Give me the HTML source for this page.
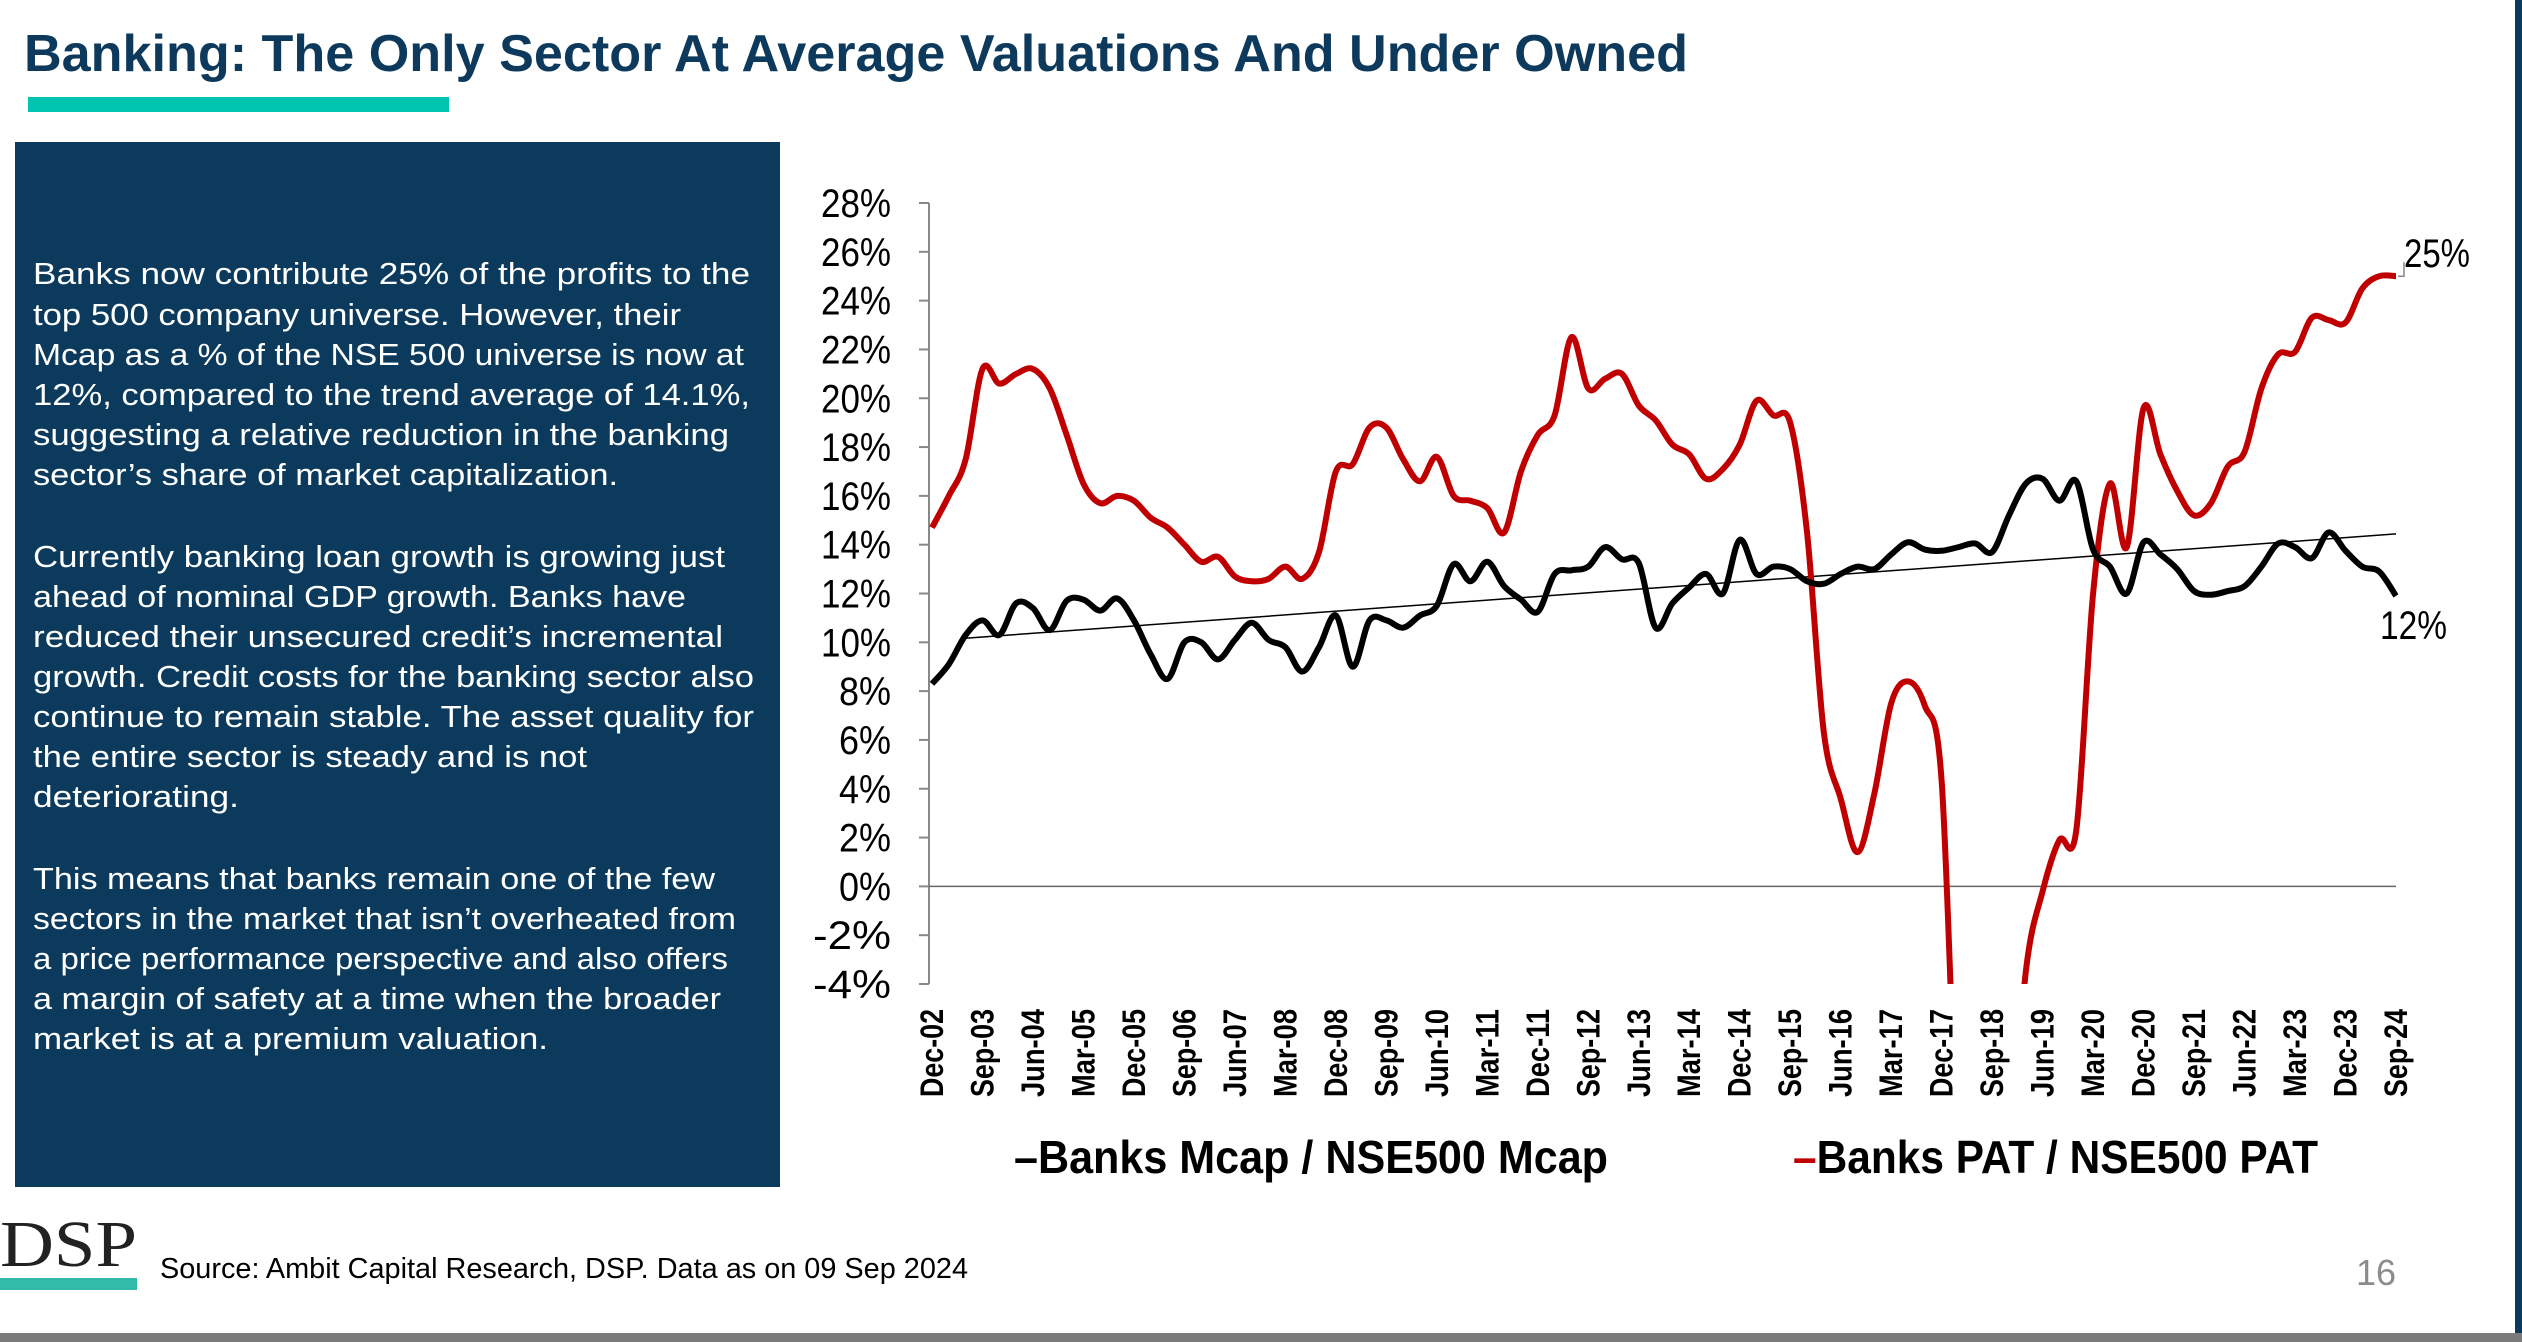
<!DOCTYPE html>
<html><head><meta charset="utf-8"><style>
html,body{margin:0;padding:0;background:#fff;}
svg{display:block;font-family:"Liberation Sans",sans-serif;}
</style></head><body>
<svg id="page" width="2522" height="1342" viewBox="0 0 2522 1342" xmlns="http://www.w3.org/2000/svg">
<rect x="0" y="0" width="2522" height="1342" fill="#fff"/>
<text x="24" y="71" font-size="52" font-weight="bold" fill="#0d3a5c" textLength="1664" lengthAdjust="spacingAndGlyphs">Banking: The Only Sector At Average Valuations And Under Owned</text>
<rect x="28" y="97" width="421" height="15" fill="#00c4b0"/>
<rect x="15" y="142" width="765" height="1045" fill="#0c3a5c"/>
<g fill="#fff" font-size="31">
<text x="33" y="284" textLength="717" lengthAdjust="spacingAndGlyphs">Banks now contribute 25% of the profits to the</text>
<text x="33" y="325" textLength="648" lengthAdjust="spacingAndGlyphs">top 500 company universe. However, their</text>
<text x="33" y="365" textLength="711" lengthAdjust="spacingAndGlyphs">Mcap as a % of the NSE 500 universe is now at</text>
<text x="33" y="405" textLength="717" lengthAdjust="spacingAndGlyphs">12%, compared to the trend average of 14.1%,</text>
<text x="33" y="445" textLength="696" lengthAdjust="spacingAndGlyphs">suggesting a relative reduction in the banking</text>
<text x="33" y="485" textLength="585" lengthAdjust="spacingAndGlyphs">sector’s share of market capitalization.</text>
<text x="33" y="567" textLength="692" lengthAdjust="spacingAndGlyphs">Currently banking loan growth is growing just</text>
<text x="33" y="607" textLength="653" lengthAdjust="spacingAndGlyphs">ahead of nominal GDP growth. Banks have</text>
<text x="33" y="647" textLength="690" lengthAdjust="spacingAndGlyphs">reduced their unsecured credit’s incremental</text>
<text x="33" y="687" textLength="721" lengthAdjust="spacingAndGlyphs">growth. Credit costs for the banking sector also</text>
<text x="33" y="727" textLength="721" lengthAdjust="spacingAndGlyphs">continue to remain stable. The asset quality for</text>
<text x="33" y="767" textLength="554" lengthAdjust="spacingAndGlyphs">the entire sector is steady and is not</text>
<text x="33" y="807" textLength="206" lengthAdjust="spacingAndGlyphs">deteriorating.</text>
<text x="33" y="889" textLength="682" lengthAdjust="spacingAndGlyphs">This means that banks remain one of the few</text>
<text x="33" y="929" textLength="703" lengthAdjust="spacingAndGlyphs">sectors in the market that isn’t overheated from</text>
<text x="33" y="969" textLength="695" lengthAdjust="spacingAndGlyphs">a price performance perspective and also offers</text>
<text x="33" y="1009" textLength="688" lengthAdjust="spacingAndGlyphs">a margin of safety at a time when the broader</text>
<text x="33" y="1049" textLength="515" lengthAdjust="spacingAndGlyphs">market is at a premium valuation.</text>
</g>
<g id="chart"></g>
<g font-size="46" font-weight="bold" fill="#000">
<text x="1014" y="1173" textLength="594" lengthAdjust="spacingAndGlyphs">–Banks Mcap / NSE500 Mcap</text>
<text x="1793" y="1173" textLength="525" lengthAdjust="spacingAndGlyphs"><tspan fill="#c00000">–</tspan>Banks PAT / NSE500 PAT</text>
</g>
<g>
<text x="0" y="1266" font-family="Liberation Serif,serif" font-size="66" fill="#222" textLength="137" lengthAdjust="spacingAndGlyphs">DSP</text>
<rect x="0" y="1278" width="137" height="12" fill="#33bba9"/>
</g>
<text x="160" y="1278" font-size="29" fill="#000" textLength="808" lengthAdjust="spacingAndGlyphs">Source: Ambit Capital Research, DSP. Data as on 09 Sep 2024</text>
<text x="2356" y="1285" font-size="36" fill="#8c8c8c">16</text>
<rect x="2515" y="0" width="7" height="1333" fill="#0c3a5c"/>
<rect x="0" y="1333" width="2522" height="9" fill="#7a7a7a"/>
</svg>
<script>
const xTickLabels = ["Dec-02","Sep-03","Jun-04","Mar-05","Dec-05","Sep-06","Jun-07","Mar-08","Dec-08","Sep-09","Jun-10","Mar-11","Dec-11","Sep-12","Jun-13","Mar-14","Dec-14","Sep-15","Jun-16","Mar-17","Dec-17","Sep-18","Jun-19","Mar-20","Dec-20","Sep-21","Jun-22","Mar-23","Dec-23","Sep-24"];
const yTicks = [28,26,24,22,20,18,16,14,12,10,8,6,4,2,0,-2,-4];
const mcapShare = [8.3,9.1,10.3,10.9,10.3,11.6,11.4,10.5,11.7,11.75,11.3,11.8,10.9,9.5,8.5,10.0,10.0,9.3,10.1,10.8,10.1,9.8,8.8,9.8,11.1,9.0,10.9,10.9,10.6,11.1,11.5,13.2,12.5,13.3,12.3,11.75,11.25,12.8,12.95,13.1,13.9,13.4,13.25,10.6,11.6,12.25,12.8,12.0,14.2,12.8,13.1,13.0,12.5,12.4,12.8,13.1,13.0,13.6,14.1,13.8,13.75,13.9,14.05,13.7,15.2,16.5,16.7,15.8,16.6,13.8,13.1,12.0,14.1,13.6,13.0,12.1,11.95,12.1,12.3,13.1,14.05,13.9,13.45,14.5,13.75,13.1,12.9,11.9];
const patShare = [14.7,16.0,17.5,21.2,20.6,21.0,21.2,20.4,18.5,16.5,15.7,16.0,15.8,15.1,14.7,14.0,13.3,13.5,12.7,12.5,12.6,13.1,12.6,13.7,17.0,17.3,18.8,18.8,17.5,16.6,17.6,16.0,15.8,15.5,14.5,17.0,18.5,19.3,22.5,20.4,20.8,21.0,19.7,19.1,18.1,17.7,16.7,17.1,18.1,19.9,19.3,19.0,14.5,6.3,3.6,1.4,3.8,7.5,8.4,7.4,4.3,-12,-20,-20,-12,-3.5,-0.2,1.9,2.3,12.0,16.5,13.9,19.6,17.7,16.2,15.2,15.7,17.2,17.8,20.4,21.8,21.9,23.3,23.2,23.1,24.5,25.0,25.0];
const lastLabels = ["25%","12%"];

const NS = "http://www.w3.org/2000/svg";
const chart = document.getElementById('chart');
const X0 = 932, X1 = 2396, Y28 = 203, YN4 = 984, PLOTL = 929;
const nPts = patShare.length;
function xScale(i){ return X0 + (X1 - X0) * i / (nPts - 1); }
function yScale(v){ return Y28 + (28 - v) * (YN4 - Y28) / 32; }
function mk(tag, attrs){ const e = document.createElementNS(NS, tag); for (const k in attrs) e.setAttribute(k, attrs[k]); return e; }
function smoothPath(vals){
  const p = vals.map((v,i)=>[xScale(i), yScale(v)]);
  let d = `M${p[0][0]},${p[0][1]}`;
  for (let i=0;i<p.length-1;i++){
    const p0=p[Math.max(0,i-1)], p1=p[i], p2=p[i+1], p3=p[Math.min(p.length-1,i+2)];
    const c1=[p1[0]+(p2[0]-p0[0])/6, p1[1]+(p2[1]-p0[1])/6];
    const c2=[p2[0]-(p3[0]-p1[0])/6, p2[1]-(p3[1]-p1[1])/6];
    d += ` C${c1[0]},${c1[1]} ${c2[0]},${c2[1]} ${p2[0]},${p2[1]}`;
  }
  return d;
}

const defs = mk('defs', {});
const cp = mk('clipPath', {id:'plotclip'});
cp.appendChild(mk('rect', {x:PLOTL, y:180, width:1500, height:YN4-180}));
defs.appendChild(cp);
chart.appendChild(defs);

// y axis
const yAxis = mk('g', {});


yAxis.appendChild(mk('line', {x1:PLOTL, y1:yScale(28), x2:PLOTL, y2:yScale(-4), stroke:'#888', 'stroke-width':2}));
yTicks.forEach(v=>{
  const y = yScale(v);
  const tk = mk('line', {x1:PLOTL-10, y1:y, x2:PLOTL, y2:y, stroke:'#888', 'stroke-width':2});
  
  
  yAxis.appendChild(tk);
  const t = mk('text', {x:891, y:y+14, 'text-anchor':'end', 'font-size':40, fill:'#000', textLength:(v<0?78:(Math.abs(v)>=10?70:52)), lengthAdjust:'spacingAndGlyphs'});
  
  
  t.textContent = v + '%';
  yAxis.appendChild(t);
});
chart.appendChild(yAxis);

// zero line
const zl = mk('line', {x1:PLOTL, y1:yScale(0), x2:X1, y2:yScale(0), stroke:'#666', 'stroke-width':1.5});


chart.appendChild(zl);

// x labels
const xAxis = mk('g', {});


xTickLabels.forEach((lab, k)=>{
  const x = xScale(k*3);
  const t = mk('text', {x:0, y:0, transform:`translate(${x+11},1097) rotate(-90)`, 'font-size':32, 'font-weight':'bold', fill:'#000', textLength:88, lengthAdjust:'spacingAndGlyphs'});
  
  
  t.textContent = lab;
  xAxis.appendChild(t);
});
chart.appendChild(xAxis);

// trend line (least squares on mcap series)
let sx=0, sy=0, sxx=0, sxy=0; const n = mcapShare.length;
mcapShare.forEach((v,i)=>{ sx+=i; sy+=v; sxx+=i*i; sxy+=i*v; });
const slope = (n*sxy - sx*sy)/(n*sxx - sx*sx), icpt = (sy - slope*sx)/n;
const tr = mk('line', {x1:xScale(0)+30, y1:yScale(icpt+slope*2), x2:xScale(n-1), y2:yScale(icpt+slope*(n-1)), stroke:'#000', 'stroke-width':1.5});


chart.appendChild(tr);

// series
const pat = mk('path', {d:smoothPath(patShare), fill:'none', stroke:'#c00000', 'stroke-width':6, 'stroke-linejoin':'round', 'clip-path':'url(#plotclip)'});


chart.appendChild(pat);
const mc = mk('path', {d:smoothPath(mcapShare), fill:'none', stroke:'#000', 'stroke-width':6, 'stroke-linejoin':'round'});


chart.appendChild(mc);

// end labels
const lp = patShare[nPts-1], lm = mcapShare[nPts-1];
const ld = mk('polyline', {points:`${X1+2},${yScale(lp)} ${X1+8},${yScale(lp)} ${X1+8},${yScale(lp)-14}`, fill:'none', stroke:'#888', 'stroke-width':1.5});


chart.appendChild(ld);
const t1 = mk('text', {x:2404, y:yScale(lp)-9, 'font-size':40, fill:'#000', textLength:66, lengthAdjust:'spacingAndGlyphs'});


t1.textContent = lastLabels[0];
chart.appendChild(t1);
const t2 = mk('text', {x:2380, y:yScale(lm)+43, 'font-size':40, fill:'#000', textLength:67, lengthAdjust:'spacingAndGlyphs'});


t2.textContent = lastLabels[1];
chart.appendChild(t2);
</script>
</body></html>
